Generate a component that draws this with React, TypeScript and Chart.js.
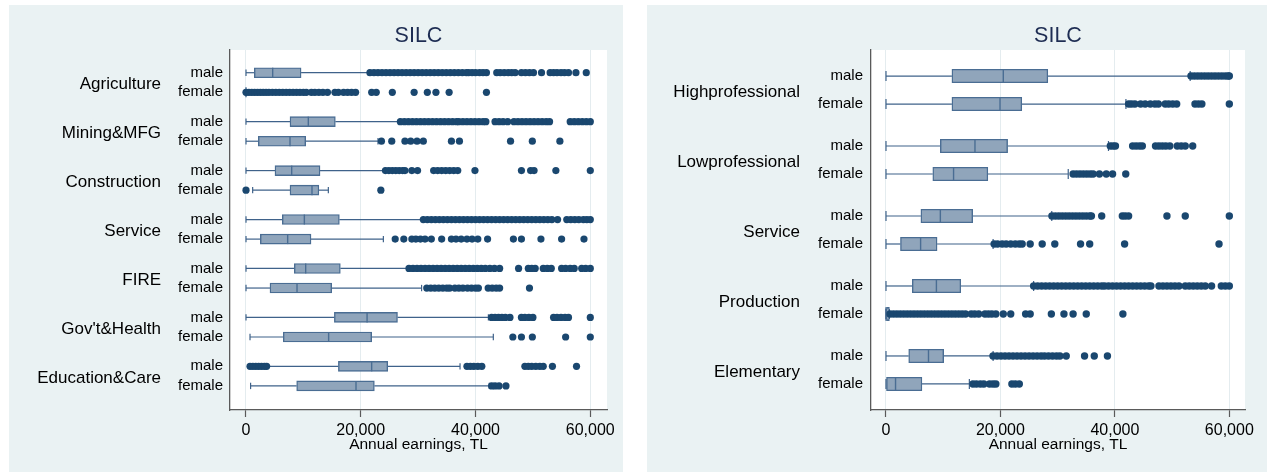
import React, { useEffect, useRef } from "react";
import { Chart, registerables } from "chart.js";

Chart.register(...registerables);

const FONT = '"Liberation Sans", Arial, Helvetica, sans-serif';
Chart.defaults.font.family = FONT;

// ---------- shared ----------
const sexLabels = ["male", "female"];
const panelTitle = "SILC";
const xAxisTitle = "Annual earnings, TL";
const xTickValues = [0, 20000, 40000, 60000];
const xTickLabels = ["0", "20,000", "40,000", "60,000"];

// ---------- left panel: industry ----------
const industries = ["Agriculture", "Mining&MFG", "Construction", "Service", "FIRE", "Gov't&Health", "Education&Care"];
// rows: male, female for each industry
const indLower = [0, 0, 0, 0, 0, 1160, 0, 0, 0, 0, 0, 700, 3600, 800];
const indQ1 = [1450, 0, 7670, 2150, 5050, 7670, 6330, 2500, 8420, 4180, 15400, 6500, 16100, 8830];
const indMedian = [4650, 0, 10860, 7670, 7960, 11500, 10170, 7260, 10400, 8890, 21100, 14400, 21900, 19170];
const indQ3 = [9600, 0, 15570, 10400, 12900, 12700, 16270, 11330, 16440, 14930, 26400, 21900, 24700, 22370];
const indUpper = [21500, 0, 26800, 23000, 24200, 14350, 30900, 23940, 28400, 30600, 42240, 43100, 37300, 42400];
const indOutliers: number[][] = [
  [21600, 22300, 23000, 23700, 24400, 25100, 25800, 26500, 27200, 27900, 28600, 29300, 30000, 30700, 31400, 32100, 32800, 33500, 34200, 34900, 35600, 36300, 37000, 37700, 38400, 38800, 39400, 40000, 40700, 41300, 41900, 43700, 44300, 45000, 45700, 46300, 46900, 48000, 48700, 49400, 50100, 51500, 53000, 53600, 54200, 54900, 55500, 56200, 57500, 59300],
  [0, 500, 1000, 1500, 2000, 2500, 3000, 3500, 4000, 4600, 5200, 5800, 6400, 7000, 7600, 8200, 8800, 9400, 10000, 10500, 11400, 12000, 12700, 13400, 14200, 15500, 16100, 17000, 17700, 18400, 19100, 21900, 22700, 25500, 29300, 31600, 33100, 35400, 41900],
  [26900, 27600, 28300, 29000, 29700, 30400, 31100, 31800, 32500, 33200, 33900, 34600, 35300, 36000, 36700, 37100, 37800, 38500, 39200, 39900, 40600, 41300, 41800, 43400, 44100, 44800, 45600, 46700, 47400, 48100, 48800, 49500, 50200, 50900, 51600, 52300, 52900, 56500, 57200, 57900, 58600, 59300, 60000],
  [23600, 25400, 27700, 28700, 29800, 30900, 35800, 37200, 46100, 49900, 54700],
  [24300, 24900, 25500, 26100, 26700, 27300, 27700, 28900, 29900, 32700, 33400, 34100, 34800, 35500, 36200, 36900, 39900, 48000, 49600, 50200, 54000, 60000],
  [0, 23500],
  [30900, 31600, 32300, 33000, 33700, 34400, 35100, 35800, 36500, 37200, 37900, 38600, 39300, 40000, 40700, 41400, 42100, 42800, 43500, 44200, 44900, 45600, 46300, 47000, 47700, 48400, 49100, 49800, 50500, 51200, 51900, 52600, 53300, 54300, 55900, 56600, 57300, 58000, 58800, 59400, 60000],
  [26000, 27500, 28900, 29600, 30400, 31200, 32300, 34100, 35800, 36600, 37500, 38500, 39400, 40400, 42100, 46600, 48000, 51400, 55000, 58900],
  [28400, 29100, 29800, 30500, 31200, 31900, 32600, 33300, 34000, 34700, 35400, 36100, 36800, 37500, 38200, 38900, 39600, 40300, 41000, 41700, 42500, 43300, 44200, 47500, 49200, 49800, 50400, 51800, 52500, 53200, 55000, 55700, 56500, 57200, 58500, 59200, 60000],
  [31500, 32200, 32900, 33600, 34300, 35000, 35500, 36400, 37100, 37800, 38600, 39300, 40000, 40500, 42200, 42900, 43600, 44200, 49400],
  [42800, 43400, 44000, 44600, 45200, 46000, 48000, 48600, 49300, 50000, 53600, 54200, 54900, 55600, 56200, 60000],
  [46500, 48000, 49900, 55700, 60000],
  [700, 1200, 1700, 2200, 2700, 3200, 3600, 38500, 39100, 39700, 40400, 41100, 48600, 49200, 49800, 50500, 51200, 51800, 53400, 57600],
  [42800, 43400, 44100, 45300],
];

// ---------- right panel: occupation ----------
const occupations = ["Highprofessional", "Lowprofessional", "Service", "Production", "Elementary"];
const occLower = [0, 0, 0, 0, 0, 0, 0, 0, 0, 0];
const occQ1 = [11520, 11520, 9500, 8180, 6100, 2530, 4600, 0, 3970, 0];
const occMedian = [20500, 19930, 15550, 11810, 9500, 6050, 8810, 0, 7430, 1670];
const occQ3 = [28280, 23730, 21250, 17800, 15150, 8930, 13070, 600, 10080, 6280];
const occUpper = [53160, 41930, 38880, 31850, 28970, 18720, 25800, 600, 18720, 14570];
const occOutliers: number[][] = [
  [53300, 53900, 54500, 55100, 55700, 56300, 56900, 57500, 58100, 58700, 59300, 59800, 60000],
  [42400, 42900, 43500, 44500, 45300, 46200, 47000, 47600, 48800, 49400, 50100, 50800, 54000, 54600, 55200, 60000],
  [39200, 39700, 40100, 43100, 43700, 44300, 44800, 47100, 47700, 48300, 48900, 49600, 50900, 51600, 52300, 53600],
  [32700, 33300, 33900, 34500, 35100, 35700, 36200, 37300, 38500, 39600, 41900],
  [29000, 29600, 30200, 30800, 31400, 32000, 32600, 33200, 33800, 34400, 35000, 35600, 35900, 37700, 41300, 41800, 42400, 49100, 52300, 60000],
  [18900, 19500, 20300, 21000, 21800, 22600, 23300, 23800, 25200, 27300, 29500, 34000, 35600, 41700, 58200],
  [25800, 26500, 27200, 27900, 28600, 29300, 30000, 30700, 31400, 32100, 32800, 33500, 34200, 34900, 35600, 36300, 37000, 37700, 38200, 38900, 39600, 40300, 41000, 41700, 42400, 43100, 43800, 44500, 45200, 45900, 46300, 47700, 48400, 49100, 49800, 50500, 51200, 52300, 53000, 53700, 54400, 55100, 55800, 56900, 58600, 59300, 60000],
  [700, 1300, 1900, 2500, 3100, 3700, 4300, 4900, 5500, 6100, 6700, 7300, 7900, 8500, 9100, 9700, 10300, 10900, 11500, 12100, 12700, 13300, 13900, 14900, 15500, 16200, 17300, 17900, 18500, 19200, 20500, 21800, 24400, 25200, 28900, 31100, 32700, 35000, 41400],
  [18700, 19400, 20100, 20800, 21500, 22200, 22900, 23600, 24300, 25000, 25700, 26400, 27100, 27700, 28400, 29100, 29800, 30400, 31500, 34700, 36400, 38700],
  [15200, 15800, 16500, 17100, 18100, 18700, 19200, 22000, 22600, 23300],
];

// ---------- styles ----------
const PANEL_BG = "#EAF2F3";
const BOX_FILL = "#90A5BB";
const BOX_LINE = "#4A6D93";
const WHISKER = "#3F628A";
const DOT = "#1A476F";
const AXIS = "#5A5A5A";
const GRID = "#E4ECEF";

type Spec = {
  groups: string[];
  lower: number[];
  q1: number[];
  median: number[];
  q3: number[];
  upper: number[];
  outliers: number[][];
  xMin: number;
  xMax: number;
  yMin: number;
  yMax: number;
  outerW: number;
  innerW: number;
  innerPad: number;
  outerPad: number;
  padRight: number;
  boxT: number;
  capR: number;
  dotR: number;
  groupShift: number;
};

const rowY = (i: number) => Math.floor(i / 2) * 2.5 + (i % 2);

const plotBg = {
  id: "plotBg",
  beforeDraw(chart: any) {
    const { ctx, chartArea } = chart;
    ctx.save();
    ctx.fillStyle = "#ffffff";
    ctx.fillRect(chartArea.left, chartArea.top, chartArea.right - chartArea.left, chartArea.bottom - chartArea.top);
    ctx.restore();
  },
};

function buildConfig(s: Spec): any {
  const n = s.q1.length;
  const rows = Array.from({ length: n }, (_, i) => i);
  const datasets: any[] = [];
  rows.forEach((i) => {
    const y = rowY(i);
    datasets.push({
      type: "line",
      data: [{ x: s.lower[i], y }, { x: s.q1[i], y }],
      borderColor: WHISKER,
      borderWidth: 1.2,
      pointRadius: 0,
      order: 6,
      xAxisID: "x",
      yAxisID: "y",
    });
    datasets.push({
      type: "line",
      data: [{ x: s.q3[i], y }, { x: s.upper[i], y }],
      borderColor: WHISKER,
      borderWidth: 1.2,
      pointRadius: 0,
      order: 6,
      xAxisID: "x",
      yAxisID: "y",
    });
  });
  datasets.push({
    type: "bar",
    indexAxis: "y",
    data: rows.map((i) => ({ x: [s.q1[i], s.q3[i]], y: rowY(i) })),
    backgroundColor: BOX_FILL,
    borderColor: BOX_LINE,
    borderWidth: 1.4,
    borderSkipped: false,
    barThickness: s.boxT,
    order: 5,
    xAxisID: "x",
    yAxisID: "y",
  });
  datasets.push({
    type: "scatter",
    data: rows.map((i) => ({ x: s.median[i], y: rowY(i) })),
    pointStyle: "line",
    pointRotation: 90,
    pointRadius: s.boxT / 2,
    pointBorderColor: BOX_LINE,
    pointBorderWidth: 1.4,
    order: 4,
    xAxisID: "x",
    yAxisID: "y",
  });
  datasets.push({
    type: "scatter",
    data: rows.flatMap((i) => [
      { x: s.lower[i], y: rowY(i) },
      { x: s.upper[i], y: rowY(i) },
    ]),
    pointStyle: "line",
    pointRotation: 90,
    pointRadius: s.capR,
    pointBorderColor: WHISKER,
    pointBorderWidth: 1.2,
    order: 3,
    xAxisID: "x",
    yAxisID: "y",
  });
  datasets.push({
    type: "scatter",
    data: rows.flatMap((i) => s.outliers[i].map((v) => ({ x: v, y: rowY(i) }))),
    pointStyle: "circle",
    pointRadius: s.dotR,
    pointBackgroundColor: DOT,
    pointBorderWidth: 0,
    order: 1,
    xAxisID: "x",
    yAxisID: "y",
  });

  const rowPositions = rows.map(rowY);
  const rowLabels = rows.map((i) => sexLabels[i % 2]);
  const groupPositions = s.groups.map((_, g) => g * 2.5 + 0.5 + s.groupShift);

  return {
    type: "scatter",
    data: { datasets },
    plugins: [plotBg],
    options: {
      responsive: false,
      maintainAspectRatio: false,
      animation: false,
      events: [],
      layout: { padding: { left: 0, right: s.padRight, top: 0, bottom: 18.3 } },
      plugins: {
        legend: { display: false },
        tooltip: { enabled: false },
        title: {
          display: true,
          text: panelTitle,
          fullSize: false,
          color: "#1E2D53",
          font: { size: 21.5, weight: "normal", family: FONT },
          padding: { top: 18.1, bottom: 1.1 },
        },
      },
      scales: {
        x: {
          type: "linear",
          offset: false,
          min: s.xMin,
          max: s.xMax,
          afterBuildTicks: (sc: any) => {
            sc.ticks = xTickValues.map((v) => ({ value: v }));
          },
          afterFit: (sc: any) => {
            sc.height = 43.7;
          },
          ticks: {
            callback: (_v: any, i: number) => xTickLabels[i],
            font: { size: 16, family: FONT },
            color: "#000",
            padding: 4.2,
            autoSkip: false,
            maxRotation: 0,
          },
          grid: {
            offset: false,
            color: GRID,
            lineWidth: 1,
            drawTicks: true,
            tickLength: 7,
            tickColor: AXIS,
            tickWidth: 1.2,
          },
          border: { display: true, color: AXIS, width: 1.3 },
          title: {
            display: true,
            text: xAxisTitle,
            color: "#000",
            font: { size: 15.5, family: FONT },
            padding: { top: 0, bottom: 0 },
          },
        },
        y: {
          type: "linear",
          position: "left",
          weight: 0,
          offset: false,
          min: s.yMin,
          max: s.yMax,
          reverse: true,
          afterBuildTicks: (sc: any) => {
            sc.ticks = rowPositions.map((v) => ({ value: v }));
          },
          afterFit: (sc: any) => {
            sc.width = s.innerW;
          },
          ticks: {
            callback: (_v: any, i: number) => rowLabels[i],
            font: { size: 15, family: FONT },
            color: "#000",
            padding: s.innerPad,
            autoSkip: false,
          },
          grid: { display: false, drawTicks: false, offset: false },
          border: { display: true, color: AXIS, width: 1.3 },
        },
        y2: {
          type: "linear",
          position: "left",
          weight: 1,
          offset: false,
          min: s.yMin,
          max: s.yMax,
          reverse: true,
          afterBuildTicks: (sc: any) => {
            sc.ticks = groupPositions.map((v) => ({ value: v }));
          },
          afterFit: (sc: any) => {
            sc.width = s.outerW;
          },
          ticks: {
            callback: (_v: any, i: number) => s.groups[i],
            font: { size: 17, family: FONT },
            color: "#000",
            padding: s.outerPad,
            autoSkip: false,
          },
          grid: { display: false, drawTicks: false, offset: false },
          border: { display: false },
        },
      },
    },
  };
}

const leftSpec: Spec = {
  groups: industries,
  lower: indLower,
  q1: indQ1,
  median: indMedian,
  q3: indQ3,
  upper: indUpper,
  outliers: indOutliers,
  xMin: -2788,
  xMax: 62911,
  yMin: -1.16,
  yMax: 17.23,
  outerW: 159,
  innerW: 62,
  innerPad: 7,
  outerPad: 7,
  padRight: 16,
  boxT: 10,
  capR: 3.2,
  dotR: 3.6,
  groupShift: 0.1,
};

const rightSpec: Spec = {
  groups: occupations,
  lower: occLower,
  q1: occQ1,
  median: occMedian,
  q3: occQ3,
  upper: occUpper,
  outliers: occOutliers,
  xMin: -2619,
  xMax: 62740,
  yMin: -0.93,
  yMax: 11.93,
  outerW: 161,
  innerW: 63,
  innerPad: 8,
  outerPad: 8,
  padRight: 22,
  boxT: 13.5,
  capR: 5,
  dotR: 3.7,
  groupShift: 0.07,
};

function Panel({ spec, left, width }: { spec: Spec; left: number; width: number }) {
  const ref = useRef<HTMLCanvasElement | null>(null);
  useEffect(() => {
    if (!ref.current) return;
    const chart = new Chart(ref.current, buildConfig(spec));
    return () => chart.destroy();
  }, []);
  return (
    <canvas
      ref={ref}
      width={width}
      height={467}
      style={{ position: "absolute", left, top: 5, width, height: 467, background: PANEL_BG, display: "block" }}
    />
  );
}

export default function App() {
  return (
    <div style={{ position: "absolute", left: 0, top: 0, width: 1275, height: 472, background: "#fff", overflow: "hidden" }}>
      <Panel spec={leftSpec} left={9} width={614} />
      <Panel spec={rightSpec} left={647} width={620} />
    </div>
  );
}
